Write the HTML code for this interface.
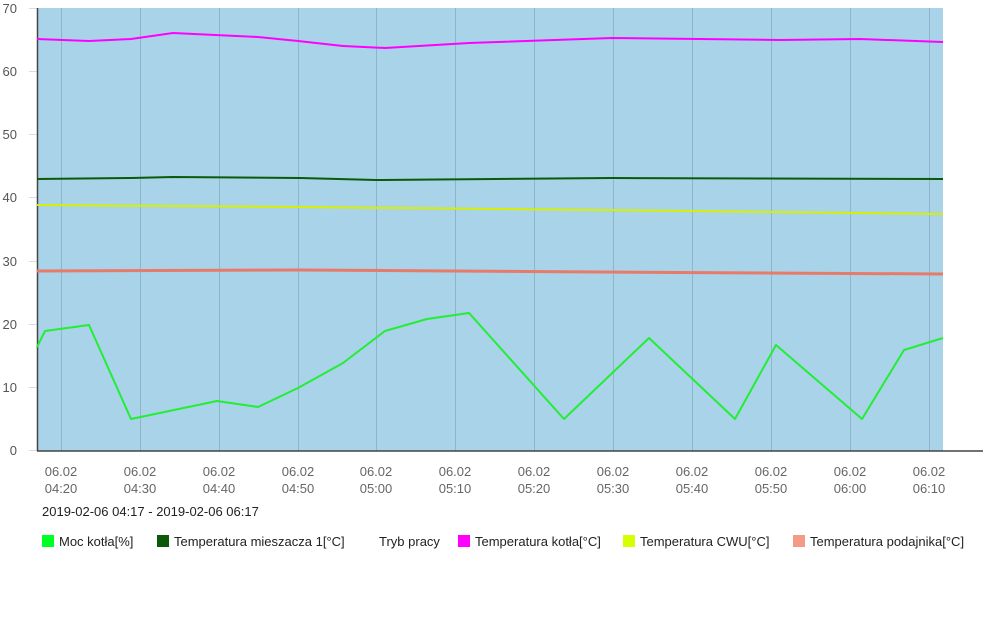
<!DOCTYPE html>
<html><head><meta charset="utf-8"><style>
body{margin:0;background:#fff;width:1000px;height:626px;overflow:hidden;font-family:"Liberation Sans",sans-serif}
</style></head><body>
<svg width="1000" height="626" xmlns="http://www.w3.org/2000/svg" font-family="Liberation Sans, sans-serif">
<rect x="37" y="8" width="906" height="443" fill="#a9d3e9"/>
<g stroke="#8fb5c8" stroke-width="1">
<line x1="61.5" y1="8" x2="61.5" y2="451"/><line x1="140.5" y1="8" x2="140.5" y2="451"/><line x1="219.5" y1="8" x2="219.5" y2="451"/><line x1="298.5" y1="8" x2="298.5" y2="451"/><line x1="376.5" y1="8" x2="376.5" y2="451"/><line x1="455.5" y1="8" x2="455.5" y2="451"/><line x1="534.5" y1="8" x2="534.5" y2="451"/><line x1="613.5" y1="8" x2="613.5" y2="451"/><line x1="692.5" y1="8" x2="692.5" y2="451"/><line x1="771.5" y1="8" x2="771.5" y2="451"/><line x1="850.5" y1="8" x2="850.5" y2="451"/><line x1="929.5" y1="8" x2="929.5" y2="451"/>
</g>
<g stroke="#ddd"><line x1="29" y1="8.5" x2="37" y2="8.5"/><line x1="29" y1="71.5" x2="37" y2="71.5"/><line x1="29" y1="134.5" x2="37" y2="134.5"/><line x1="29" y1="197.5" x2="37" y2="197.5"/><line x1="29" y1="261.5" x2="37" y2="261.5"/><line x1="29" y1="324.5" x2="37" y2="324.5"/><line x1="29" y1="387.5" x2="37" y2="387.5"/><line x1="29" y1="450.5" x2="37" y2="450.5"/></g>
<line x1="37.5" y1="8" x2="37.5" y2="451" stroke="#444" stroke-width="1.5"/>
<line x1="37" y1="451" x2="983" y2="451" stroke="#444" stroke-width="1.5"/>
<g font-size="13" fill="#555" text-anchor="end">
<text x="17" y="13">70</text><text x="17" y="76">60</text><text x="17" y="139">50</text><text x="17" y="202">40</text><text x="17" y="266">30</text><text x="17" y="329">20</text><text x="17" y="392">10</text><text x="17" y="455">0</text></g>
<g font-size="13" fill="#666" text-anchor="middle">
<text x="61" y="476">06.02</text><text x="61" y="493">04:20</text>
<text x="140" y="476">06.02</text><text x="140" y="493">04:30</text>
<text x="219" y="476">06.02</text><text x="219" y="493">04:40</text>
<text x="298" y="476">06.02</text><text x="298" y="493">04:50</text>
<text x="376" y="476">06.02</text><text x="376" y="493">05:00</text>
<text x="455" y="476">06.02</text><text x="455" y="493">05:10</text>
<text x="534" y="476">06.02</text><text x="534" y="493">05:20</text>
<text x="613" y="476">06.02</text><text x="613" y="493">05:30</text>
<text x="692" y="476">06.02</text><text x="692" y="493">05:40</text>
<text x="771" y="476">06.02</text><text x="771" y="493">05:50</text>
<text x="850" y="476">06.02</text><text x="850" y="493">06:00</text>
<text x="929" y="476">06.02</text><text x="929" y="493">06:10</text></g>
<g fill="none" stroke-linejoin="round">
<polyline stroke="#e87a6a" stroke-width="3" points="37,271 300,270 600,272 943,274"/>
<polyline stroke="#d6f000" stroke-width="2" points="37,205 300,207 600,210 943,214"/>
<polyline stroke="#0a5a0a" stroke-width="2" points="37,179 131,178 173,177 300,178 376,180 612,178 943,179"/>
<polyline stroke="#ff00ff" stroke-width="2" points="37,39 89,41 131,39 173,33 258,37 298,41 343,46 385,48 469,43 612,38 780,40 860,39 943,42"/>
<polyline stroke="#22ee33" stroke-width="2" points="37,347 45,331 89,325 131,419 217,401 258,407 298,388 343,363 385,331 427,319 469,313 564,419 649,338 735,419 776,345 862,419 904,350 943,338"/>
</g>
<text x="42" y="516" font-size="13" fill="#222">2019-02-06 04:17 - 2019-02-06 06:17</text>
<g font-size="13" fill="#222">
<rect x="42" y="535" width="12" height="12" fill="#00ff22"/><text x="59" y="546">Moc kotła[%]</text>
<rect x="157" y="535" width="12" height="12" fill="#0a5a0a"/><text x="174" y="546">Temperatura mieszacza 1[°C]</text>
<text x="379" y="546">Tryb pracy</text>
<rect x="458" y="535" width="12" height="12" fill="#ff00ff"/><text x="475" y="546">Temperatura kotła[°C]</text>
<rect x="623" y="535" width="12" height="12" fill="#d6ff00"/><text x="640" y="546">Temperatura CWU[°C]</text>
<rect x="793" y="535" width="12" height="12" fill="#f59a85"/><text x="810" y="546">Temperatura podajnika[°C]</text>
</g>
</svg>
</body></html>
